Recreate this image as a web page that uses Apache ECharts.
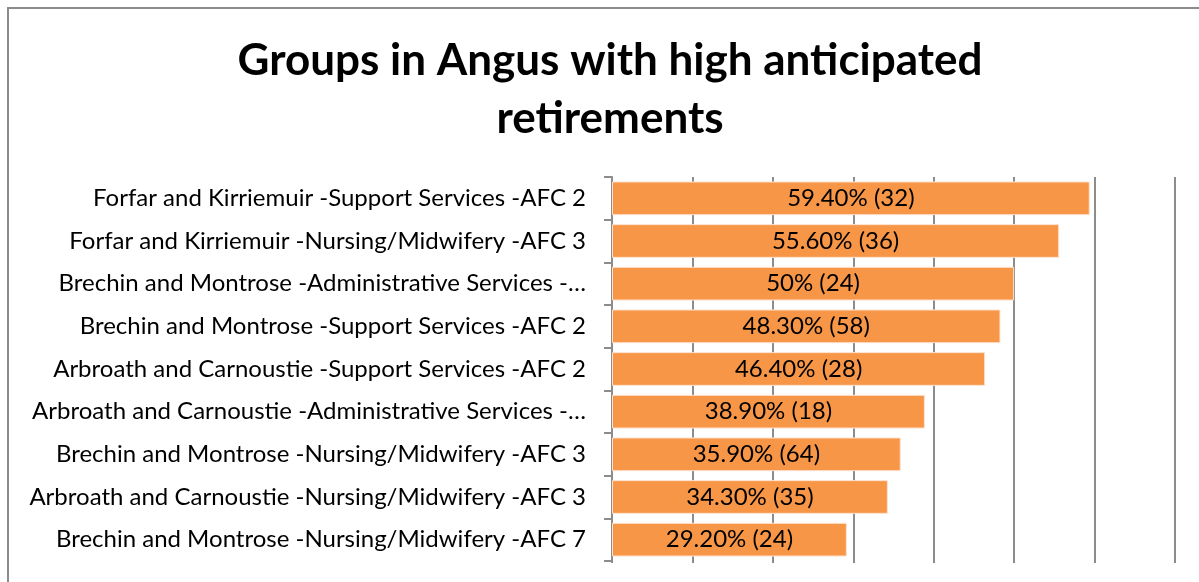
<!DOCTYPE html>
<html>
<head>
  <meta charset="utf-8">
  <title>Groups in Angus with high anticipated retirements</title>
  <script src="https://cdn.jsdelivr.net/npm/echarts@6/dist/echarts.min.js"></script>
  <style>
    body { margin: 0; background: #fff; }
    #chart { width: 1199px; height: 582px; }
  </style>
</head>
<body>
  <div id="chart"></div>
  <script>
    const groups = [
      'Forfar and Kirriemuir -Support Services -AFC 2',
      'Forfar and Kirriemuir -Nursing/Midwifery -AFC 3',
      'Brechin and Montrose -Administrative Services -…',
      'Brechin and Montrose -Support Services -AFC 2',
      'Arbroath and Carnoustie -Support Services -AFC 2',
      'Arbroath and Carnoustie -Administrative Services -…',
      'Brechin and Montrose -Nursing/Midwifery -AFC 3',
      'Arbroath and Carnoustie -Nursing/Midwifery -AFC 3',
      'Brechin and Montrose -Nursing/Midwifery -AFC 7'
    ];
    const pctLabels = ['59.40%', '55.60%', '50%', '48.30%', '46.40%', '38.90%', '35.90%', '34.30%', '29.20%'];
    const percentages = [59.4, 55.6, 50, 48.3, 46.4, 38.9, 35.9, 34.3, 29.2];
    const headcounts = [32, 36, 24, 58, 28, 18, 64, 35, 24];

    const font = 'Lato, "Open Sans", sans-serif';
    const chart = echarts.init(document.getElementById('chart'));
    chart.setOption({
      backgroundColor: '#fff',
      animation: false,
      title: {
        text: 'Groups in Angus with high anticipated\nretirements',
        left: 605,
        top: 27,
        textAlign: 'center',
        textStyle: {
          fontFamily: font, fontSize: 44, fontWeight: 'bold',
          color: '#000', lineHeight: 58
        }
      },
      graphic: [{
        type: 'rect',
        shape: { x: 8, y: 8, width: 1300, height: 700 },
        style: { fill: 'none', stroke: '#8c8c8c', lineWidth: 2 },
        silent: true
      }],
      grid: { left: 612, right: 24, top: 177, bottom: 21 },
      xAxis: {
        type: 'value', min: 0, max: 70, interval: 10,
        axisLabel: { show: false },
        axisLine: { show: false },
        axisTick: { show: true, length: 2, lineStyle: { color: '#8c8c8c', width: 2 } },
        splitLine: { show: true, lineStyle: { color: '#8c8c8c', width: 2 } }
      },
      yAxis: {
        type: 'category', inverse: true, data: groups,
        axisLine: { show: true, lineStyle: { color: '#8c8c8c', width: 2 } },
        axisTick: { show: true, length: 8, lineStyle: { color: '#8c8c8c', width: 2 } },
        axisLabel: { color: '#000', fontFamily: font, fontSize: 24, margin: 26 }
      },
      series: [{
        type: 'bar',
        data: percentages,
        barCategoryGap: '21%',
        itemStyle: { color: '#F79646', borderColor: '#fde3d0', borderWidth: 1 },
        label: {
          show: true, position: 'inside', color: '#000',
          fontFamily: font, fontSize: 24,
          formatter: p => pctLabels[p.dataIndex] + ' (' + headcounts[p.dataIndex] + ')'
        }
      }]
    });
  </script>
</body>
</html>
